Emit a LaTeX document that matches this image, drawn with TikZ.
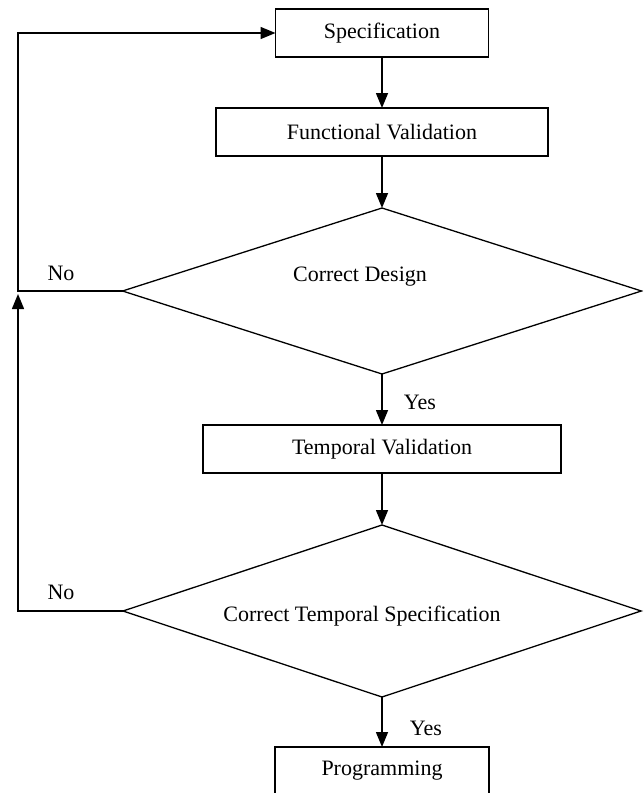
\documentclass[tikz,border=0pt]{standalone}
\usepackage{fontspec}
\setmainfont{Liberation Serif}
\usetikzlibrary{shapes.geometric,arrows.meta}
\begin{document}
\begin{tikzpicture}[x=1pt,y=-1pt,
  every node/.style={font=\fontsize{22}{26}\selectfont},
  box/.style={draw,line width=1.3pt,rectangle,minimum height=48pt,inner sep=0pt,outer sep=0pt},
  dia/.style={draw,line width=1.3pt,diamond,inner sep=0pt,outer sep=0pt},
  lbl/.style={inner sep=0pt},
  conn/.style={line width=1.5pt,-{Triangle[length=15pt,width=12pt]}},
  line/.style={line width=1.5pt}]
\useasboundingbox (0,0) rectangle (643,793);
\clip (0,0) rectangle (643,793);
\node[box,minimum width=213pt] (spec) at (382,33) {Specification};
\node[box,minimum width=332pt] (fv) at (382,132) {Functional Validation};
\node[dia,minimum width=519pt,minimum height=166pt] (d1) at (382,291) {};
\node[lbl] (t1) at (360,277) {Correct Design};
\node[box,minimum width=358pt] (tv) at (382,449) {Temporal Validation};
\node[dia,minimum width=518pt,minimum height=172pt] (d2) at (382,611) {};
\node[lbl] (t2) at (362,616) {Correct Temporal Specification};
\node[box,minimum width=214pt] (prog) at (382,771) {Programming};
\node[lbl] (y1) at (420,402) {Yes};
\node[lbl] (y2) at (426,728) {Yes};
\node[lbl] (n1) at (61,273) {No};
\node[lbl] (n2) at (61,592) {No};
\coordinate (c1) at (18,291);
\coordinate (c2) at (18,294);
\draw[conn] (spec.south) -- (fv.north);
\draw[conn] (fv.south) -- (d1.north);
\draw[conn] (d1.south) -- (tv.north);
\draw[conn] (tv.south) -- (d2.north);
\draw[conn] (d2.south) -- (prog.north);
\draw[conn] (d1.west) -- (c1) |- (spec.west);
\draw[conn] (d2.west) -| (c2);
\end{tikzpicture}
\end{document}
